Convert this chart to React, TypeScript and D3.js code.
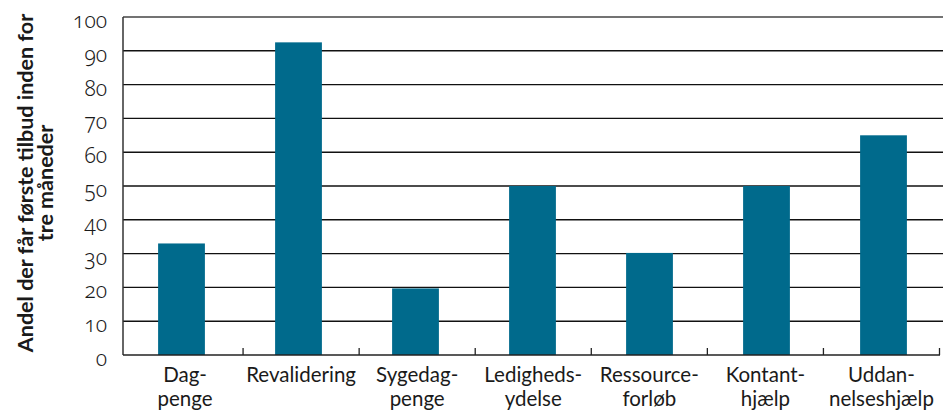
import React from "react";
import * as d3 from "d3";

const categories: string[][] = [
  ["Dag-", "penge"],
  ["Revalidering"],
  ["Sygedag-", "penge"],
  ["Ledigheds-", "ydelse"],
  ["Ressource-", "forløb"],
  ["Kontant-", "hjælp"],
  ["Uddan-", "nelseshjælp"],
];
const values: number[] = [33, 92.5, 19.7, 50, 30.2, 50, 65];
const yTicks: number[] = [0, 10, 20, 30, 40, 50, 60, 70, 80, 90, 100];
const titleLines: string[] = ["Andel der får første tilbud inden for", "tre måneder"];

const W = 948;
const H = 410;
const FONT = "Lato, 'Open Sans', sans-serif";
const NUMFONT = "'Noto Sans', Lato, sans-serif";

export default function App() {
  const keys = categories.map((c) => c.join(""));
  const y = d3.scaleLinear().domain([0, 100]).range([355, 17]);
  const xBar = d3.scaleBand<string>().domain(keys).range([123, 942]).paddingInner(0.6).paddingOuter(0.3);
  const xAxis = d3.scaleBand<string>().domain(keys).range([127, 939.5]);
  const step = xAxis.step();

  return (
    <div style={{ position: "absolute", left: 0, top: 0 }}>
      <svg width={W} height={H} style={{ display: "block" }}>
        <rect x={0} y={0} width={W} height={H} fill="#fff" />
        {yTicks.filter((t) => t > 0).map((t) => (
          <line key={t} x1={123} x2={943} y1={y(t)} y2={y(t)} stroke={t === 100 ? "#444" : "#111"} strokeWidth={1.4} />
        ))}
        {values.map((v, i) => (
          <rect
            key={keys[i]}
            x={xBar(keys[i])}
            y={y(v)}
            width={xBar.bandwidth()}
            height={y(0) - y(v)}
            fill="#006a8c"
          />
        ))}
        <line x1={123} x2={123} y1={y(100)} y2={y(0)} stroke="#333" strokeWidth={1.5} />
        <line x1={123} x2={940} y1={y(0)} y2={y(0)} stroke="#222" strokeWidth={1.5} />
        {keys.map((k) => {
          const xr = (xAxis(k) as number) + step;
          return <line key={"t" + k} x1={xr} x2={xr} y1={y(0)} y2={y(0) - 7} stroke="#222" strokeWidth={1.3} />;
        })}
        {yTicks.map((t) => (
          <text
            key={"yl" + t}
            x={107}
            y={y(t) + 11}
            textAnchor="end"
            fontFamily={NUMFONT}
            fontSize={21}
            fontWeight={300}
            fill="#1a1a1a"
            style={{ fontFeatureSettings: "'onum' 1", fontVariantNumeric: "oldstyle-nums" }}
          >
            {t}
          </text>
        ))}
        {categories.map((lines, i) => {
          const cx = (xAxis(keys[i]) as number) + step / 2;
          return (
            <text key={"xl" + keys[i]} x={cx} y={382} textAnchor="middle" fontFamily={FONT} fontSize={20.5} fill="#1a1a1a">
              {lines.map((l, j) => (
                <tspan key={j} x={cx} y={382 + j * 24}>
                  {l}
                </tspan>
              ))}
            </text>
          );
        })}
        <text transform="translate(0,183) rotate(-90)" textAnchor="middle" fontFamily={FONT} fontSize={21.5} fontWeight="bold" fill="#1a1a1a">
          {titleLines.map((l, j) => (
            <tspan key={j} x={0} y={33 + j * 19.5}>
              {l}
            </tspan>
          ))}
        </text>
      </svg>
    </div>
  );
}
